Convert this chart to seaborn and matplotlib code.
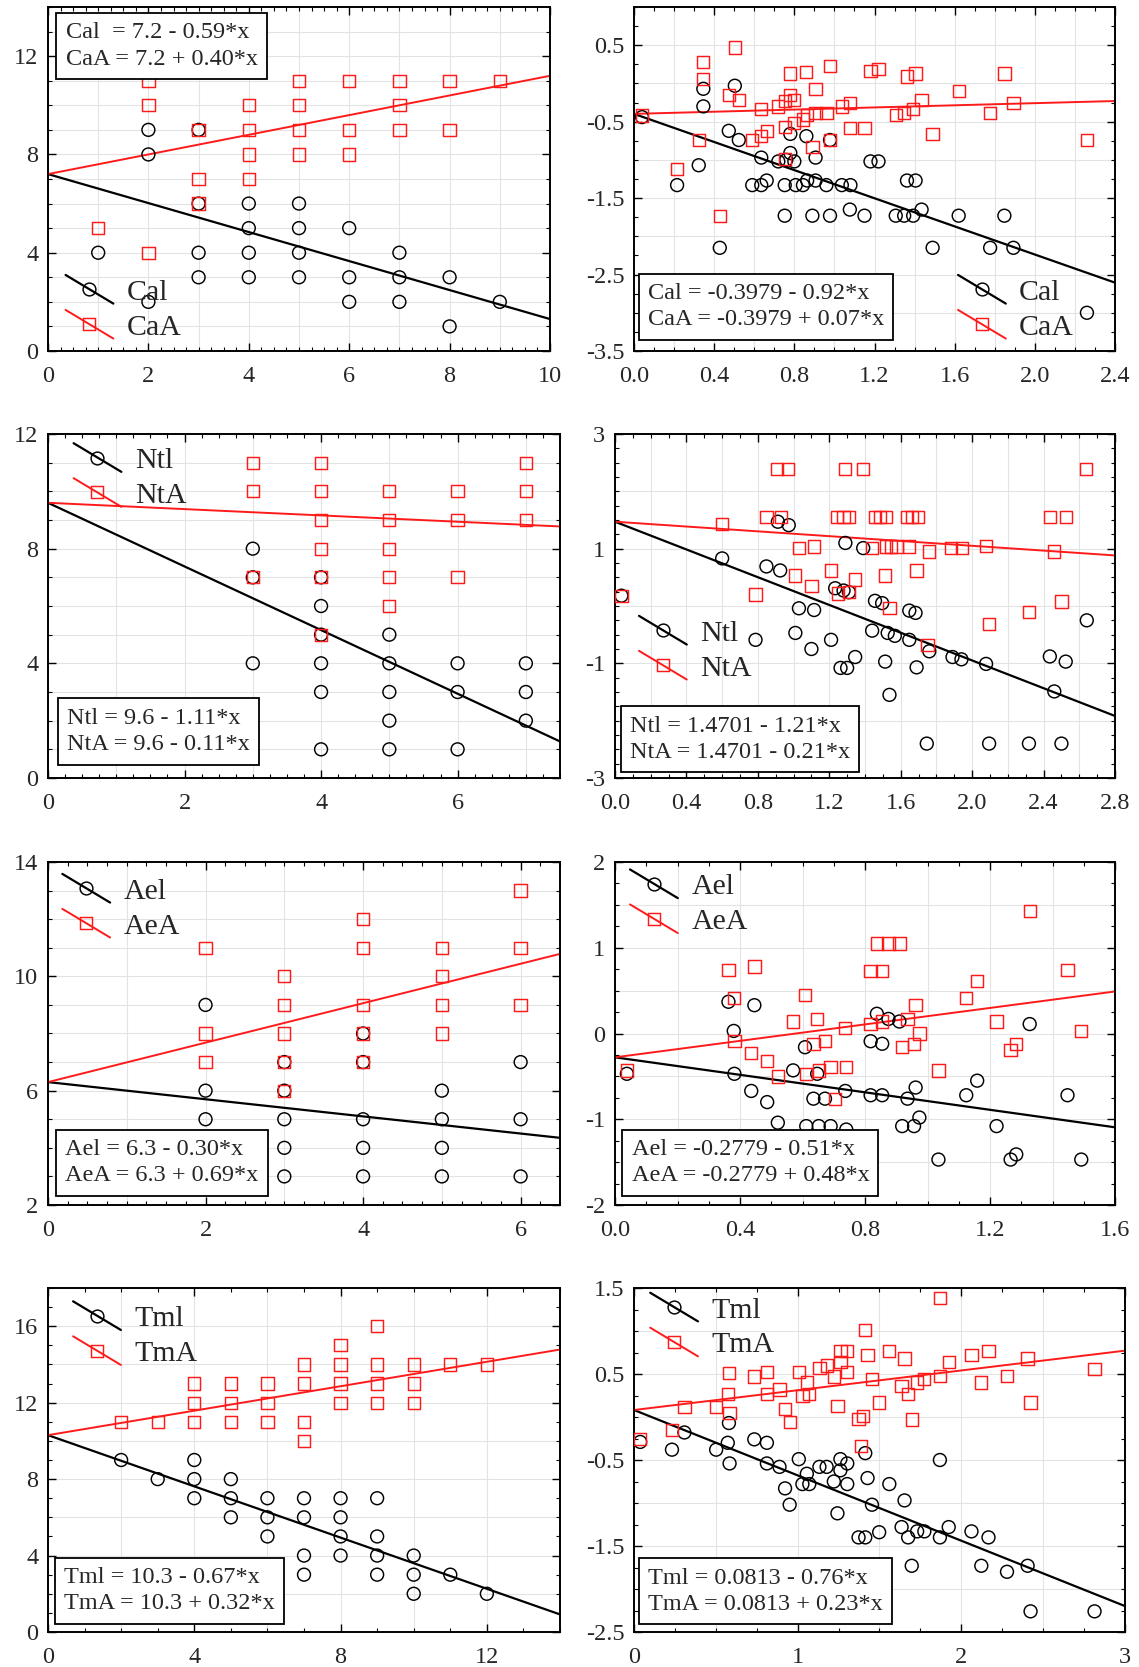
import numpy as np
import matplotlib
matplotlib.use('Agg')
import matplotlib.pyplot as plt
import seaborn as sns
from matplotlib.lines import Line2D
from matplotlib.legend_handler import HandlerLine2D
from matplotlib.ticker import MultipleLocator, FixedLocator, FormatStrFormatter

# ---- data ----
# panel 1: Cal / CaA vs integer score
cal_x = [1, 2, 2, 2, 3, 3, 3, 3, 4, 4, 4, 4, 5, 5, 5, 5, 6, 6, 6, 7, 7, 7, 8, 8, 9]
cal_y = [4, 9, 8, 2, 9, 6, 4, 3, 6, 5, 4, 3, 6, 5, 4, 3, 5, 3, 2, 4, 3, 2, 3, 1, 2]
caa_x = [1, 2, 2, 2, 3, 3, 3, 4, 4, 4, 4, 5, 5, 5, 5, 6, 6, 6, 7, 7, 7, 8, 8, 9]
caa_y = [5, 11, 10, 4, 9, 7, 6, 10, 9, 8, 7, 11, 10, 9, 8, 11, 9, 8, 11, 10, 9, 11, 9, 11]

# panel 2: Cal / CaA (log scale)
cal2_x = [0.04, 0.346, 0.346, 0.503, 0.215, 0.323, 0.428, 0.473, 0.523, 0.635, 0.59, 0.635,
          0.662, 0.72, 0.752, 0.752, 0.78, 0.78, 0.76, 0.80, 0.807, 0.843, 0.86, 0.864,
          0.906, 0.906, 0.89, 0.96, 0.978, 0.978, 1.037, 1.08, 1.077, 1.15, 1.18, 1.22,
          1.306, 1.348, 1.393, 1.362, 1.405, 1.435, 1.49, 1.62, 1.777, 1.848, 1.893, 2.26]
cal2_y = [-0.44, -0.07, -0.30, -0.03, -1.33, -1.07, -2.15, -0.62, -0.74, -0.97, -1.33, -1.33,
          -1.27, -1.02, -1.33, -1.73, -0.66, -0.91, -1.0, -1.02, -1.33, -1.33, -0.69, -1.27,
          -0.97, -1.27, -1.73, -1.33, -0.74, -1.73, -1.33, -1.33, -1.65, -1.73, -1.02, -1.02,
          -1.73, -1.73, -1.73, -1.27, -1.27, -1.65, -2.15, -1.73, -2.15, -1.73, -2.15, -3.0]
caa2_x = [0.04, 0.346, 0.346, 0.503, 0.323, 0.215, 0.428, 0.473, 0.523, 0.59, 0.635, 0.635,
          0.662, 0.72, 0.752, 0.752, 0.752, 0.78, 0.78, 0.80, 0.80, 0.843, 0.86, 0.864,
          0.906, 0.906, 0.89, 0.96, 0.978, 0.978, 1.037, 1.077, 1.077, 1.15, 1.18, 1.22,
          1.306, 1.348, 1.362, 1.393, 1.405, 1.435, 1.49, 1.62, 1.777, 1.848, 1.893, 2.26]
caa2_y = [-0.42, 0.28, 0.06, 0.47, -0.74, -1.12, -1.73, -0.15, -0.22, -0.74, -0.69, -0.33,
          -0.62, -0.30, -0.23, -0.57, -0.99, 0.13, -0.15, -0.22, -0.52, -0.47, 0.15, -0.41,
          -0.07, -0.39, -0.83, -0.39, 0.23, -0.74, -0.30, -0.26, -0.58, -0.58, 0.16, 0.19,
          -0.41, -0.39, 0.09, -0.33, 0.13, -0.22, -0.66, -0.10, -0.39, 0.13, -0.26, -0.74]

# panel 3: Ntl / NtA
ntl_x = [3, 3, 3, 4, 4, 4, 4, 4, 4, 5, 5, 5, 5, 5, 6, 6, 6, 7, 7, 7]
ntl_y = [8, 7, 4, 7, 6, 5, 4, 3, 1, 5, 4, 3, 2, 1, 4, 3, 1, 4, 3, 2]
nta_x = [3, 3, 3, 4, 4, 4, 4, 4, 4, 5, 5, 5, 5, 5, 6, 6, 6, 7, 7, 7]
nta_y = [11, 10, 7, 11, 10, 9, 8, 7, 5, 10, 9, 8, 7, 6, 10, 9, 7, 11, 10, 9]

# panel 4: Ntl / NtA (log scale)
ntl4_x = [0.036, 0.60, 0.848, 0.925, 0.912, 0.973, 0.787, 1.03, 1.115, 1.01, 1.10, 1.21,
          1.233, 1.28, 1.31, 1.263, 1.30, 1.345, 1.29, 1.39, 1.456, 1.496, 1.44, 1.527,
          1.567, 1.513, 1.537, 1.648, 1.683, 1.648, 1.689, 1.76, 1.746, 1.89, 1.94, 2.078,
          2.095, 2.318, 2.435, 2.524, 2.46, 2.50, 2.642]
ntl4_y = [0.18, 0.83, 0.69, 0.62, 1.47, 1.41, -0.59, -0.04, -0.07, -0.47, -0.75, -0.59,
          0.31, 0.27, 0.24, -1.08, -1.08, -0.89, 1.10, 1.01, 0.09, 0.05, -0.43, -0.47,
          -0.52, -0.97, -1.55, -0.08, -0.12, -0.59, -1.07, -0.79, -2.40, -0.89, -0.93, -1.01,
          -2.40, -2.40, -0.88, -0.97, -1.49, -2.40, -0.25]
nta4_x = [0.036, 0.60, 0.848, 0.929, 0.908, 0.969, 0.787, 1.01, 1.03, 1.115, 1.10, 1.21,
          1.25, 1.243, 1.28, 1.31, 1.29, 1.31, 1.345, 1.39, 1.44, 1.456, 1.486, 1.517,
          1.513, 1.517, 1.547, 1.577, 1.537, 1.634, 1.663, 1.695, 1.648, 1.689, 1.76, 1.75,
          1.88, 1.943, 2.078, 2.095, 2.318, 2.435, 2.524, 2.46, 2.50, 2.638]
nta4_y = [0.18, 1.43, 1.55, 1.55, 2.39, 2.39, 0.20, 0.53, 1.01, 1.04, 0.35, 0.62,
          0.22, 1.55, 1.55, 1.55, 2.39, 0.24, 0.46, 2.39, 1.01, 1.55, 1.55, 1.55,
          0.53, 1.04, 1.04, 1.04, -0.03, 1.55, 1.55, 1.55, 1.04, 0.62, 0.95, -0.68,
          1.01, 1.01, 1.05, -0.32, -0.10, 1.55, 1.55, 0.95, 0.08, 2.39]

# panel 5: Ael / AeA
ael_x = [2, 2, 2, 3, 3, 3, 3, 3, 4, 4, 4, 4, 4, 5, 5, 5, 5, 6, 6, 6]
ael_y = [9, 6, 5, 7, 6, 5, 4, 3, 8, 7, 5, 4, 3, 6, 5, 4, 3, 7, 5, 3]
aea_x = [2, 2, 2, 3, 3, 3, 3, 3, 4, 4, 4, 4, 4, 5, 5, 5, 5, 6, 6, 6]
aea_y = [11, 8, 7, 10, 9, 8, 7, 6, 12, 11, 9, 8, 7, 11, 10, 9, 8, 13, 11, 9]

# panel 6: Ael / AeA (log scale)
ael6_x = [0.038, 0.363, 0.38, 0.382, 0.446, 0.436, 0.487, 0.521, 0.57, 0.608, 0.612, 0.635,
          0.647, 0.652, 0.672, 0.69, 0.737, 0.74, 0.818, 0.855, 0.838, 0.875, 0.91, 0.818,
          0.855, 0.936, 0.962, 0.974, 0.919, 0.957, 1.035, 1.124, 1.159, 1.221, 1.266, 1.284,
          1.327, 1.448, 1.492]
ael6_y = [-0.47, 0.37, 0.03, -0.47, 0.33, -0.67, -0.80, -1.04, -0.43, -0.16, -1.08, -0.76,
          -0.47, -1.08, -0.76, -1.08, -0.67, -1.12, -0.09, -0.12, 0.23, 0.17, 0.14, -0.72,
          -0.72, -0.76, -0.63, -0.98, -1.08, -1.08, -1.47, -0.72, -0.55, -1.08, -1.47, -1.41,
          0.11, -0.72, -1.47]
aea6_x = [0.038, 0.363, 0.38, 0.382, 0.446, 0.436, 0.487, 0.521, 0.57, 0.608, 0.612, 0.635,
          0.647, 0.652, 0.672, 0.69, 0.705, 0.737, 0.74, 0.818, 0.855, 0.838, 0.875, 0.91,
          0.818, 0.855, 0.919, 0.936, 0.962, 0.957, 0.974, 1.035, 1.124, 1.159, 1.221, 1.266,
          1.284, 1.327, 1.448, 1.492]
aea6_y = [-0.43, 0.74, 0.41, -0.09, 0.78, -0.23, -0.32, -0.50, 0.14, 0.45, -0.47, -0.12,
          0.17, -0.43, -0.09, -0.39, -0.76, 0.06, -0.39, 0.73, 0.73, 1.05, 1.05, 1.05,
          0.11, 0.14, -0.16, 0.17, 0.33, -0.12, 0.0, -0.43, 0.41, 0.61, 0.14, -0.19,
          -0.12, 1.43, 0.74, 0.03]

# panel 7: Tml / TmA
tml_x = [2, 3, 4, 4, 4, 5, 5, 5, 6, 6, 6, 7, 7, 7, 7, 8, 8, 8, 8, 9, 9, 9, 9, 10, 10, 10, 11, 12]
tml_y = [9, 8, 9, 8, 7, 8, 7, 6, 7, 6, 5, 7, 6, 4, 3, 7, 6, 5, 4, 7, 5, 4, 3, 4, 3, 2, 3, 2]
tma_x = [2, 3, 4, 4, 4, 5, 5, 5, 6, 6, 6, 7, 7, 7, 7, 8, 8, 8, 8, 9, 9, 9, 9, 10, 10, 10, 11, 12]
tma_y = [11, 11, 13, 12, 11, 13, 12, 11, 13, 12, 11, 14, 13, 11, 10, 15, 14, 13, 12,
         16, 14, 13, 12, 14, 13, 12, 14, 14]

# panel 8: Tml / TmA (log scale)
tml8_x = [0.038, 0.232, 0.308, 0.502, 0.58, 0.573, 0.584, 0.735, 0.812, 0.812, 0.889, 0.923,
          0.951, 1.007, 1.029, 1.056, 1.071, 1.133, 1.177, 1.221, 1.261, 1.261, 1.303, 1.303,
          1.243, 1.372, 1.413, 1.413, 1.427, 1.454, 1.498, 1.56, 1.635, 1.653, 1.675, 1.697,
          1.73, 1.774, 1.869, 1.869, 1.923, 2.062, 2.122, 2.166, 2.279, 2.405, 2.423, 2.814]
tml8_y = [-0.29, -0.38, -0.18, -0.38, -0.07, -0.30, -0.54, -0.26, -0.30, -0.54, -0.58, -0.83,
          -1.02, -0.49, -0.78, -0.66, -0.78, -0.58, -0.58, -0.75, -0.49, -0.62, -0.54, -0.78,
          -1.12, -1.40, -1.40, -0.42, -0.71, -1.02, -1.34, -0.78, -1.28, -0.97, -1.40, -1.73,
          -1.33, -1.33, -1.40, -0.50, -1.28, -1.33, -1.73, -1.40, -1.80, -1.73, -2.26, -2.26]
tma8_x = [0.038, 0.232, 0.308, 0.502, 0.58, 0.573, 0.584, 0.735, 0.812, 0.812, 0.889, 0.923,
          0.951, 1.007, 1.029, 1.056, 1.071, 1.133, 1.177, 1.221, 1.261, 1.261, 1.303, 1.303,
          1.243, 1.372, 1.40, 1.413, 1.427, 1.454, 1.498, 1.56, 1.635, 1.653, 1.675, 1.697,
          1.73, 1.774, 1.869, 1.869, 1.923, 2.062, 2.122, 2.166, 2.279, 2.405, 2.423, 2.814, 1.387]
tma8_y = [-0.26, -0.15, 0.12, 0.12, 0.51, 0.27, 0.05, 0.47, 0.52, 0.27, 0.32, 0.09,
          -0.06, 0.52, 0.24, 0.40, 0.27, 0.57, 0.60, 0.47, 0.77, 0.64, 0.77, 0.52,
          0.13, -0.02, 0.01, 1.01, 0.72, 0.44, 0.17, 0.77, 0.36, 0.68, 0.27, -0.03,
          0.40, 0.44, 0.48, 1.38, 0.64, 0.72, 0.40, 0.77, 0.48, 0.68, 0.17, 0.56, -0.34]

# regression lines (common intercept, two slopes)
intercepts = [7.2, -0.3979, 9.6, 1.4701, 6.3, -0.2779, 10.3, 0.0813]
slopes_l = [-0.59, -0.92, -1.11, -1.21, -0.30, -0.51, -0.67, -0.76]
slopes_a = [0.40, 0.07, -0.11, -0.21, 0.69, 0.48, 0.32, 0.23]

names_l = ['Cal', 'Cal', 'Ntl', 'Ntl', 'Ael', 'Ael', 'Tml', 'Tml']
names_a = ['CaA', 'CaA', 'NtA', 'NtA', 'AeA', 'AeA', 'TmA', 'TmA']
equations = [
    'Cal  = 7.2 - 0.59*x\nCaA = 7.2 + 0.40*x',
    'Cal = -0.3979 - 0.92*x\nCaA = -0.3979 + 0.07*x',
    'Ntl = 9.6 - 1.11*x\nNtA = 9.6 - 0.11*x',
    'Ntl = 1.4701 - 1.21*x\nNtA = 1.4701 - 0.21*x',
    'Ael = 6.3 - 0.30*x\nAeA = 6.3 + 0.69*x',
    'Ael = -0.2779 - 0.51*x\nAeA = -0.2779 + 0.48*x',
    'Tml = 10.3 - 0.67*x\nTmA = 10.3 + 0.32*x',
    'Tml = 0.0813 - 0.76*x\nTmA = 0.0813 + 0.23*x',
]

sns.set_style('ticks')
plt.rcParams['font.family'] = ['Liberation Serif', 'DejaVu Serif']
plt.rcParams['axes.unicode_minus'] = False


class DiagHandler(HandlerLine2D):
    # legend key drawn as a falling diagonal with the marker in the middle
    def create_artists(self, legend, orig_handle, xdescent, ydescent,
                       width, height, fontsize, trans):
        x0, x1 = -xdescent, -xdescent + width
        yc = -ydescent + height / 2
        dy = 0.48 * fontsize
        seg = Line2D([x0, x1], [yc + dy, yc - dy])
        self.update_prop(seg, orig_handle, legend)
        seg.set_marker('None')
        seg.set_transform(trans)
        mk = Line2D([(x0 + x1) / 2], [yc])
        self.update_prop(mk, orig_handle, legend)
        mk.set_linestyle('None')
        mk.set_transform(trans)
        return [seg, mk]


W, H = 1139, 1667
fig = plt.figure(figsize=(W / 100, H / 100), dpi=100)

# pixel boxes of the axes: left, right, top, bottom
boxes = [(48, 550, 7, 351), (634, 1115, 7, 351),
         (48, 560, 434, 778), (615, 1115, 434, 778),
         (48, 560, 862, 1205), (615, 1115, 862, 1205),
         (48, 560, 1288, 1632), (634, 1125, 1288, 1632)]

# axis setup for each panel
cfg = [
    dict(xlim=(0, 10), xmaj=2, xmin=0.25, xgrid=1, ylim=(0, 14), yticks=[0, 4, 8, 12],
         ymin=1, ygrid=1, xfmt='%d', yfmt='%d',
         eq=(0.035, 0.955, 'top'), leg=('lower left', (0.035, 0.03))),
    dict(xlim=(0, 2.4), xmaj=0.4, xmin=0.1, xgrid=0.2, ylim=(-3.5, 1.0),
         yticks=[-3.5, -2.5, -1.5, -0.5, 0.5], ymin=0.25, ygrid=0.5, xfmt='%.1f', yfmt='%.1f',
         eq=(0.029, 0.06, 'bottom'), leg=('lower right', (0.915, 0.03))),
    dict(xlim=(0, 7.5), xmaj=2, xmin=0.25, xgrid=1, ylim=(0, 12), yticks=[0, 4, 8, 12],
         ymin=1, ygrid=1, xfmt='%d', yfmt='%d',
         eq=(0.038, 0.066, 'bottom'), leg=('upper left', (0.05, 0.962))),
    dict(xlim=(0, 2.8), xmaj=0.4, xmin=0.1, xgrid=0.2, ylim=(-3, 3), yticks=[-3, -1, 1, 3],
         ymin=0.25, ygrid=1, xfmt='%.1f', yfmt='%d',
         eq=(0.030, 0.043, 'bottom'), leg=('upper left', (0.048, 0.46))),
    dict(xlim=(0, 6.5), xmaj=2, xmin=0.25, xgrid=1, ylim=(2, 14), yticks=[2, 6, 10, 14],
         ymin=1, ygrid=1, xfmt='%d', yfmt='%d',
         eq=(0.034, 0.054, 'bottom'), leg=('upper left', (0.028, 0.954))),
    dict(xlim=(0, 1.6), xmaj=0.4, xmin=0.1, xgrid=0.2, ylim=(-2, 2), yticks=[-2, -1, 0, 1, 2],
         ymin=0.25, ygrid=0.5, xfmt='%.1f', yfmt='%d',
         eq=(0.033, 0.054, 'bottom'), leg=('upper left', (0.030, 0.967))),
    dict(xlim=(0, 14), xmaj=4, xmin=1, xgrid=2, ylim=(0, 18), yticks=[0, 4, 8, 12, 16],
         ymin=1, ygrid=2, xfmt='%d', yfmt='%d',
         eq=(0.032, 0.051, 'bottom'), leg=('upper left', (0.049, 0.95))),
    dict(xlim=(0, 3), xmaj=1, xmin=0.25, xgrid=0.5, ylim=(-2.5, 1.5),
         yticks=[-2.5, -1.5, -0.5, 0.5, 1.5], ymin=0.25, ygrid=0.5, xfmt='%d', yfmt='%.1f',
         eq=(0.029, 0.049, 'bottom'), leg=('upper left', (0.033, 0.975))),
]

series = [(cal_x, cal_y, caa_x, caa_y), (cal2_x, cal2_y, caa2_x, caa2_y),
          (ntl_x, ntl_y, nta_x, nta_y), (ntl4_x, ntl4_y, nta4_x, nta4_y),
          (ael_x, ael_y, aea_x, aea_y), (ael6_x, ael6_y, aea6_x, aea6_y),
          (tml_x, tml_y, tma_x, tma_y), (tml8_x, tml8_y, tma8_x, tma8_y)]

RED = '#ff1a1a'

for i, (box, c, (lx, ly, ax_, ay)) in enumerate(zip(boxes, cfg, series)):
    l, r, t, b = box
    ax = fig.add_axes([l / W, 1 - b / H, (r - l) / W, (b - t) / H])
    ax.set_xlim(*c['xlim'])
    ax.set_ylim(*c['ylim'])

    # light grid
    for gx in np.arange(c['xlim'][0] + c['xgrid'], c['xlim'][1] - 1e-9, c['xgrid']):
        ax.axvline(gx, color='#e3e3e3', lw=0.8, zorder=0)
    for gy in np.arange(c['ylim'][0] + c['ygrid'], c['ylim'][1] - 1e-9, c['ygrid']):
        ax.axhline(gy, color='#e3e3e3', lw=0.8, zorder=0)

    # regression lines
    xs = np.array(c['xlim'], dtype=float)
    sns.lineplot(x=xs, y=intercepts[i] + slopes_l[i] * xs, ax=ax, color='black',
                 linewidth=1.6, zorder=2)
    sns.lineplot(x=xs, y=intercepts[i] + slopes_a[i] * xs, ax=ax, color=RED,
                 linewidth=1.4, zorder=2)

    # points
    sns.scatterplot(x=lx, y=ly, ax=ax, marker='o', s=86, color='black',
                    facecolor='none', edgecolor='black', linewidth=1.05, zorder=3, legend=False)
    sns.scatterplot(x=ax_, y=ay, ax=ax, marker='s', s=78, color=RED,
                    facecolor='none', edgecolor=RED, linewidth=1.05, zorder=3, legend=False)

    # ticks
    ax.xaxis.set_major_locator(MultipleLocator(c['xmaj']))
    ax.xaxis.set_minor_locator(MultipleLocator(c['xmin']))
    ax.yaxis.set_major_locator(FixedLocator(c['yticks']))
    ax.yaxis.set_minor_locator(MultipleLocator(c['ymin']))
    ax.xaxis.set_major_formatter(FormatStrFormatter(c['xfmt']))
    ax.yaxis.set_major_formatter(FormatStrFormatter(c['yfmt']))
    ax.tick_params(which='both', direction='in', top=True, right=True, color='black')
    ax.tick_params(which='major', length=6, width=1.0, labelsize=17.5)
    ax.tick_params(axis='x', which='major', pad=11)
    ax.tick_params(axis='y', which='major', pad=7)
    ax.tick_params(which='minor', length=3, width=0.8)
    for sp in ax.spines.values():
        sp.set_linewidth(1.4)
        sp.set_color('black')
    ax.set_xlabel('')
    ax.set_ylabel('')

    # equation box
    ex, ey, eva = c['eq']
    ax.text(ex, ey, equations[i], transform=ax.transAxes, ha='left', va=eva, fontsize=17.5,
            linespacing=1.35, zorder=5,
            bbox=dict(boxstyle='square,pad=0.38', fc='white', ec='black', lw=1.3))

    # legend with diagonal keys
    h1 = Line2D([], [], color='black', lw=1.6, marker='o', ms=9.2, mfc='none', mec='black', mew=1.05)
    h2 = Line2D([], [], color=RED, lw=1.4, marker='s', ms=8.8, mfc='none', mec=RED, mew=1.05)
    loc, anchor = c['leg']
    leg = ax.legend([h1, h2], [names_l[i], names_a[i]], loc=loc, bbox_to_anchor=anchor,
                    frameon=False, fontsize=21.5, handlelength=1.6, handletextpad=0.45,
                    labelspacing=0.27, borderpad=0, borderaxespad=0,
                    handler_map={Line2D: DiagHandler()})
    leg.set_zorder(6)

fig.savefig('out.png', dpi=100)
